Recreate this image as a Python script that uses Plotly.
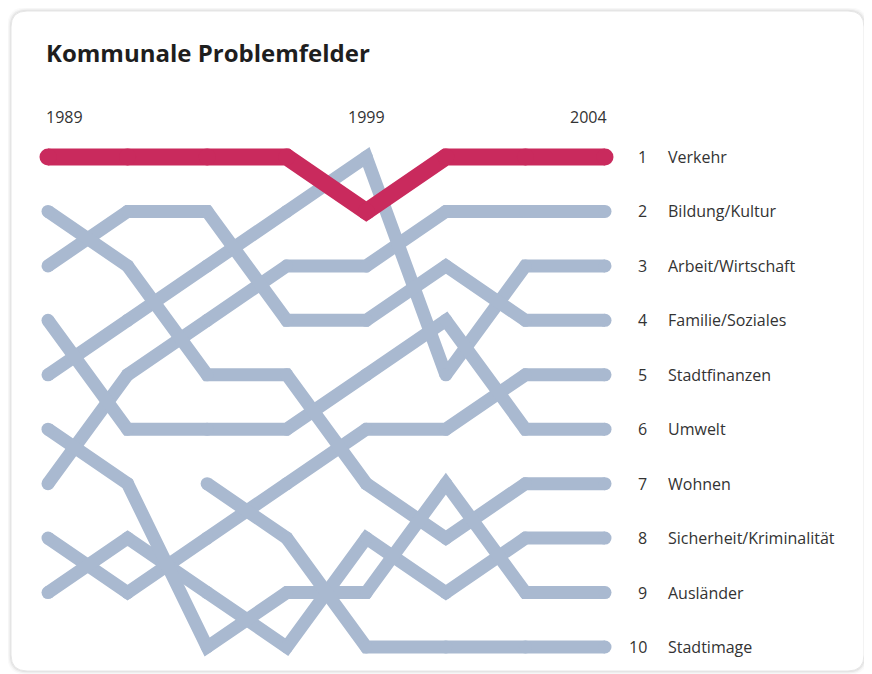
import plotly.graph_objects as go

# ---- data ----
waves = [0, 1, 2, 3, 4, 5, 6, 7]          # survey waves (1989 ... 2004)
year_ticks = {0: "1989", 4: "1999", 7: "2004"}

categories = ["Verkehr", "Bildung/Kultur", "Arbeit/Wirtschaft", "Familie/Soziales",
              "Stadtfinanzen", "Umwelt", "Wohnen", "Sicherheit/Kriminalität",
              "Ausländer", "Stadtimage"]

verkehr      = [1, 1, 1, 1, 2, 1, 1, 1]
bildung      = [7, 5, 4, 3, 3, 2, 2, 2]
arbeit       = [5, 4, 3, 2, 1, 5, 3, 3]
familie      = [3, 2, 2, 4, 4, 3, 4, 4]
stadtfinanz  = [8, 9, 8, 7, 6, 6, 5, 5]
umwelt       = [4, 6, 6, 6, 5, 4, 6, 6]
wohnen       = [2, 3, 5, 5, 7, 8, 7, 7]
sicherheit   = [9, 8, 9, 10, 8, 9, 8, 8]
auslaender   = [6, 7, 10, 9, 9, 7, 9, 9]
stadtimage   = [None, None, 7, 8, 10, 10, 10, 10]

series = [verkehr, bildung, arbeit, familie, stadtfinanz, umwelt,
          wohnen, sicherheit, auslaender, stadtimage]
final_rank = [1, 2, 3, 4, 5, 6, 7, 8, 9, 10]

# ---- styling / layout ----
OFF = 8                      # page body margin of the html page
W, H = 872 - OFF, 674 - OFF
RED, BLUE = "#C92A5D", "#A9B9D0"
TXT = "#333333"
FONT = "Open Sans"

# page-pixel geometry of the plotting grid
x0_px, dx_px = 48 - OFF, (605 - 48) / 7
y1_px, dy_px = 157 - OFF, (647 - 157) / 9
xr = [-x0_px / dx_px, (W - x0_px) / dx_px]
yr = [1 + (H - y1_px) / dy_px, 1 - y1_px / dy_px]

def px_x(p):
    return (p - OFF - x0_px) / dx_px

def px_y(p):
    return 1 + (p - OFF - y1_px) / dy_px

fig = go.Figure()

# blue lines first, red on top
order = list(range(1, len(series))) + [0]
for i in order:
    col = RED if i == 0 else BLUE
    w = 17 if i == 0 else 13
    fig.add_trace(go.Scatter(
        x=waves, y=series[i], mode="lines+markers",
        line=dict(color=col, width=w),
        marker=dict(color=col, size=w, line=dict(width=0)),
        connectgaps=False, hoverinfo="skip", showlegend=False,
        name=categories[i],
    ))

annotations = []
# year labels
for k, lab in year_ticks.items():
    if k == 0:
        anchor, xa = "left", px_x(44)
    elif k == 7:
        anchor, xa = "right", px_x(609)
    else:
        anchor, xa = "center", k
    annotations.append(dict(x=xa, y=px_y(117), text=lab, showarrow=False,
                            xanchor=anchor, yanchor="middle",
                            font=dict(family=FONT, size=16, color=TXT)))
# rank numbers and labels
for cat, r in zip(categories, final_rank):
    annotations.append(dict(x=px_x(649), y=r, text=str(r), showarrow=False,
                            xanchor="right", yanchor="middle",
                            font=dict(family=FONT, size=16, color=TXT)))
    annotations.append(dict(x=px_x(666), y=r, text=cat, showarrow=False,
                            xanchor="left", yanchor="middle",
                            font=dict(family=FONT, size=16, color=TXT)))
# title
annotations.append(dict(x=px_x(44), y=px_y(52), text="<b>Kommunale Problemfelder</b>",
                        showarrow=False, xanchor="left", yanchor="middle",
                        font=dict(family=FONT, size=24, color="#1e1e1e")))

# card with rounded corners (paper coords = full figure), given in page pixels
def card_path(l, t, r, b, rad):
    X = lambda p: (p - OFF) / W
    Y = lambda p: 1 - (p - OFF) / H
    return (f"M {X(l+rad)} {Y(t)} L {X(r-rad)} {Y(t)} Q {X(r)} {Y(t)} {X(r)} {Y(t+rad)} "
            f"L {X(r)} {Y(b-rad)} Q {X(r)} {Y(b)} {X(r-rad)} {Y(b)} "
            f"L {X(l+rad)} {Y(b)} Q {X(l)} {Y(b)} {X(l)} {Y(b-rad)} "
            f"L {X(l)} {Y(t+rad)} Q {X(l)} {Y(t)} {X(l+rad)} {Y(t)} Z")

shapes = []
for grow, alpha in [(4, 0.02), (2.5, 0.035), (1.2, 0.05)]:
    shapes.append(dict(type="path", xref="paper", yref="paper",
                       path=card_path(11 - grow, 11 - grow, 864 + grow, 671 + grow, 16 + grow),
                       line=dict(width=0), fillcolor=f"rgba(0,0,0,{alpha})", layer="below"))
shapes.append(dict(type="path", xref="paper", yref="paper",
                   path=card_path(11, 11, 864, 671, 16),
                   line=dict(color="#e6e6e6", width=1), fillcolor="white", layer="below"))

fig.update_layout(
    width=W, height=H,
    margin=dict(l=0, r=0, t=0, b=0),
    paper_bgcolor="white", plot_bgcolor="rgba(0,0,0,0)",
    xaxis=dict(range=xr, visible=False, fixedrange=True),
    yaxis=dict(range=yr, visible=False, fixedrange=True),
    annotations=annotations, shapes=shapes,
    showlegend=False,
)

fig.write_html("out.html")
